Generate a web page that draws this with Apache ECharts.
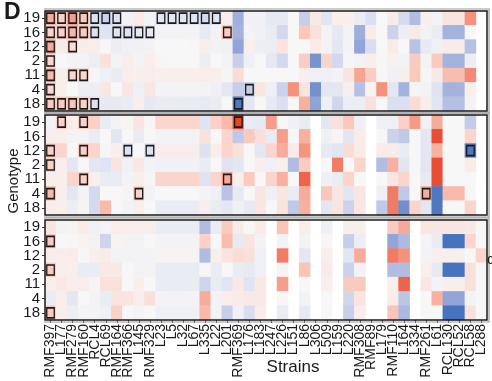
<!DOCTYPE html>
<html>
<head>
<meta charset="utf-8">
<script src="https://cdn.jsdelivr.net/npm/echarts@6/dist/echarts.min.js"></script>
<style>
html,body{margin:0;padding:0;background:#fff;}
#chart{width:492px;height:381px;}
</style>
</head>
<body>
<div id="chart"></div>
<script>
const strains = ['RMF397','L177','RMF279','RMF160','RCL4','RCL69','RMF164','RMF366','L145','RMF329',
  'L23','L5','L32','L67','L335','L22','L201','RMF369','L176','L183',
  'L247','L226','L151','L86','L306','L509','L159','L220','RMF308','RMF89',
  'L179','RMF110','L164','L334','RMF261','L61','RCL130','RCL52','RCL58','L288'];
const genotypes = ['19','16','12','2','11','4','18'];

// rows follow genotypes order; null = no data
const panel1 = [
  [1.6,1.0,1.8,1.1,-0.6,-1.0,-0.6,-0.15,0.3,-0.1,-0.5,-0.5,-0.5,-0.5,-0.8,-0.5,0.25,-1.8,-0.15,-0.15,-0.4,-0.4,0,-1.1,0.35,-0.5,0.2,0.2,-0.3,-0.65,0,0.3,-0.75,-1.5,0.2,-0.1,0.5,0.5,2.0,null],
  [0.9,1.0,1.4,1.1,-0.6,-0.55,-0.55,-0.55,-0.4,-0.4,-0.1,-0.1,-0.1,-0.1,-0.35,-0.1,1.1,-1.7,-0.1,-0.15,-0.3,-0.85,0,1.15,0.6,-0.1,-0.4,-0.1,-1.8,0.3,0,-1.0,-0.25,0.35,-0.1,-0.3,-1.7,-1.7,0,null],
  [1.6,0.3,0.7,0.25,0.25,0.05,-0.25,-0.15,-0.15,-0.1,0,0,0,0.05,0.2,-0.1,-0.15,-2.0,0.2,-0.25,-0.25,0.5,0,0,0.3,-0.1,-0.45,-0.1,-2.0,-0.7,0,0.3,0,-1.35,-0.35,-0.15,0.3,0.3,-1.4,null],
  [0.85,0,-0.1,-0.1,-0.25,0.55,-0.1,0.25,-0.1,0.25,0.05,0,0,0,-0.25,0,-0.1,-1.1,-0.2,0,-0.4,-0.85,0,1.05,-2.35,0.9,-0.85,-0.05,-0.1,0.2,0.05,0.15,-0.1,1.1,-0.1,1.1,-1.7,-1.7,-0.25,null],
  [1.35,0.2,0.8,0.8,-0.05,-0.2,-0.3,0.25,0.2,0.25,0.2,0.2,0.2,0.2,0.25,0.2,-0.05,0.7,0,0,0,0,0,0.2,-0.2,-0.2,-0.1,0.5,1.7,1.05,0,-0.15,0.2,1.1,-0.05,0.35,1.3,1.3,2.1,null],
  [0.85,0.2,0,-0.25,-0.25,0.4,0,0.45,-0.2,0.45,-0.1,-0.1,-0.1,-0.1,-0.1,-0.2,-0.45,-1.1,-1.1,0.45,-0.2,-1.0,2.0,0.5,-2.4,-0.45,-0.45,0.2,-1.4,0.1,2.0,-0.45,-1.7,-0.05,-0.1,-0.55,-1.7,-1.7,0.2,null],
  [1.1,1.1,1.2,0.95,-0.6,-0.35,-0.35,-0.3,0.2,-0.4,-0.3,-0.3,-0.3,-0.3,-0.35,-0.3,0,-2.9,-0.45,0,-0.35,-0.65,0,1.5,-2.05,-0.2,-0.9,-0.25,-0.25,0.6,0,-0.65,-0.65,0.7,0.2,-0.5,-1.4,-1.4,-0.1,null]
];
const panel2 = [
  [-0.15,1.0,0.25,1.0,1.0,-0.3,-0.1,0.1,0.5,0.05,0.85,0.85,0.85,0.85,-0.55,1.0,1.35,3.0,-0.3,-0.35,1.8,0,-0.15,-0.3,null,-0.45,0.6,1.15,-0.2,null,-0.2,-0.2,1.0,1.85,-0.15,1.6,0,0,-1.15,null],
  [0.25,0.2,-0.1,-0.1,-0.3,0,-0.5,0,-0.3,0,-0.1,-0.1,-0.1,-0.1,0.6,0,0.9,-1.2,1.1,0.6,-0.3,1.8,0.05,1.5,null,-0.2,0.1,-0.5,0.3,null,0.05,-1.0,-1.2,0,-0.45,2.9,0,0,0.9,null],
  [1.0,0.9,0,1.0,0.9,0.05,0.2,-0.6,0,-0.6,0.25,0.25,0.25,0.25,-0.6,0.25,0.9,0.55,0,-0.45,0.9,1.6,0.3,1.95,null,-0.35,-0.5,0.7,0.3,null,0.3,0.3,-0.3,0,-0.45,1.5,0,0,-2.9,null],
  [1.0,0.2,-0.45,0,-0.45,-0.55,0.5,-0.15,0.4,-0.1,-0.15,-0.15,-0.15,-0.15,-0.3,0,-0.55,-0.45,0,0.2,-0.2,0.2,-1.5,1.05,null,0,2.3,0,0.9,null,-1.5,1.5,-0.5,0,-0.45,2.9,0,0,0.3,null],
  [0.2,0.2,0.9,1.0,0.2,-0.3,-0.3,-0.1,0.2,-0.05,0.9,0.9,0.9,0.9,-0.55,0.9,1.6,0.2,1.1,0,0.9,1.5,0,2.6,null,-0.2,-0.3,0.9,0,null,0,0.45,0.9,0,-0.35,2.9,0,0,0,null],
  [1.35,0.2,-0.45,-0.1,-0.8,0,0,0.1,1.0,-0.1,0,0,0,0,-0.1,-0.2,-1.35,-0.35,0,0.45,-0.2,0.45,-0.3,1.6,null,1.15,0.45,-0.5,0.45,null,-0.2,2.3,-1.2,0,1.6,-2.9,1.35,1.35,0,null],
  [0.25,0.2,-0.25,0.1,-0.8,1.35,0,-0.1,0.2,0,-0.3,-0.3,-0.3,-0.3,0.2,-0.3,-0.45,-0.15,-0.35,0.45,0,0.5,-1.2,1.5,null,-0.45,0.5,-1.0,0.45,null,-1.2,2.3,-2.45,0.9,-0.45,-2.9,0,0,0.9,null]
];
const panel3 = [
  [0.5,-0.1,0.1,0.3,-0.2,-0.1,0.25,0.25,0.25,0.25,-0.3,-0.3,-0.3,-0.3,-1.5,-0.3,1.1,0.3,0,0.3,null,1.2,null,0.25,null,-0.2,null,0.2,0.2,null,null,1.1,1.65,null,0.45,0.45,0.45,0.45,0.35,0],
  [1.1,0,0.05,0.1,-0.1,-0.95,0.1,-0.1,-0.1,0,-0.1,-0.1,-0.1,-0.1,1.0,0,1.3,-0.35,0.5,-0.1,null,-0.1,null,-0.1,null,0.05,null,-1.1,-0.25,null,null,-2.0,-1.55,null,-0.1,-0.3,-3.0,-3.0,0.9,0],
  [0.25,0.25,0.3,0.05,0.2,0.3,-0.1,-0.1,-0.1,-0.1,0.1,0.1,0.1,0.1,-1.5,0.2,0.5,0.7,0.6,-0.2,null,2.3,null,-0.45,null,0.2,null,-0.5,1.6,null,null,2.3,2.0,null,-0.1,0.2,0.2,0.2,0,0.9],
  [1.1,0.25,0.2,-0.3,-0.3,0.35,0.35,0,-0.1,-0.1,-0.3,-0.3,-0.3,-0.3,0.05,-0.3,0,-0.3,-0.35,-0.2,null,0.1,null,1.2,null,0.3,null,-1.0,-0.1,null,null,-1.5,-1.5,null,0.2,-0.35,-3.0,-3.0,0.6,0],
  [0.25,0.35,0.2,0.25,0.1,0.6,0.6,0,0.2,0,-0.3,-0.3,-0.3,-0.3,-0.95,-0.3,-0.5,0.35,-0.55,0.35,null,1.8,null,0,null,0.2,null,1.1,1.1,null,null,0.2,2.6,null,0.45,-0.1,0.2,0.2,0.6,0],
  [-0.3,0.25,-0.45,0,-0.1,-0.3,0.5,0.5,0.25,0.6,-0.1,-0.1,-0.1,-0.1,1.6,-0.1,0.25,0.3,0.35,0.35,null,0.05,null,-0.1,null,0,null,-0.9,0.5,null,null,0.3,-1.3,null,0,1.5,-2.0,-2.0,-0.1,0],
  [1.1,0.25,-0.25,-0.1,-0.1,-0.2,1.0,0,-0.1,0,-0.2,-0.2,-0.2,-0.2,1.35,-0.1,-1.1,-0.2,-0.7,0.25,null,-0.3,null,-0.35,null,0,null,-1.1,0.25,null,null,1.2,-1.55,null,0,0,-3.0,-3.0,0.6,0]
];

// boxed cells: [strain index, genotype index]
const boxes1 = [[0,0],[1,0],[2,0],[3,0],[4,0],[5,0],[6,0],[10,0],[11,0],[12,0],[13,0],[14,0],[15,0],
  [0,1],[1,1],[2,1],[3,1],[4,1],[6,1],[7,1],[8,1],[9,1],[16,1],
  [0,2],[2,2],[0,3],[0,4],[2,4],[3,4],[0,5],[18,5],
  [0,6],[1,6],[2,6],[3,6],[4,6],[17,6]];
const boxes2 = [[1,0],[3,0],[17,0],[0,2],[3,2],[7,2],[9,2],[38,2],[0,3],[3,4],[16,4],[0,5],[8,5],[34,5]];
const boxes3 = [[0,1],[0,3],[0,6]];

const panels = [panel1, panel2, panel3];
const boxes = [boxes1, boxes2, boxes3];
const FONT = '"Liberation Sans", Arial, sans-serif';
const LEFT = 45, RIGHT = 5, H = 100, W = 492 - LEFT - RIGHT;
const tops = [11, 115, 220];

function toData(m) {
  const out = [];
  m.forEach((row, y) => row.forEach((v, x) => { if (v !== null) out.push([x, y, v]); }));
  return out;
}

const grid = [], xAxis = [], yAxis = [], series = [], graphic = [];
tops.forEach((t, i) => {
  grid.push({ left: LEFT, right: RIGHT, top: t, height: H });
  const last = i === 2;
  xAxis.push({
    type: 'category', gridIndex: i, data: strains, show: last,
    axisLine: { show: false },
    axisTick: { show: last, length: 3, interval: 0, alignWithLabel: true, lineStyle: { color: '#333' } },
    axisLabel: { show: last, rotate: 90, interval: 0, fontSize: 14, fontFamily: FONT, color: '#1a1a1a', margin: 4 },
    splitLine: { show: false }
  });
  yAxis.push({
    type: 'category', gridIndex: i, data: genotypes, inverse: true,
    axisLine: { show: false },
    axisTick: { show: true, length: 3, interval: 0, alignWithLabel: true, lineStyle: { color: '#333' } },
    axisLabel: { interval: 0, fontSize: 15, fontFamily: FONT, color: '#1a1a1a', margin: 5 },
    splitLine: { show: false }
  });
  series.push({
    type: 'heatmap', xAxisIndex: i, yAxisIndex: i, data: toData(panels[i]),
    itemStyle: { borderWidth: 0 }, emphasis: { disabled: true }, silent: true
  });
  graphic.push({
    type: 'polyline', z: 100, silent: true,
    shape: { points: [[LEFT - 1, t - 2], [LEFT + W + 2, t - 2], [LEFT + W + 2, t + H + 2], [LEFT - 1, t + H + 2]] },
    style: { fill: null, stroke: '#9a9a9a', lineWidth: 1.2 }
  });
  graphic.push({
    type: 'rect', z: 101, silent: true,
    shape: { x: LEFT, y: t, width: W, height: H },
    style: { fill: null, stroke: '#1a1a1a', lineWidth: 1.5 }
  });
});
boxes.forEach((b, i) => {
  series.push({
    type: 'scatter', xAxisIndex: i, yAxisIndex: i, data: b, symbol: 'rect', symbolSize: [7.5, 10],
    itemStyle: { color: 'rgba(0,0,0,0)', borderColor: '#1a1a1a', borderWidth: 1.5, opacity: 1 },
    emphasis: { disabled: true }, silent: true, z: 5
  });
});

graphic.push(
  { type: 'text', z: 110, style: { text: 'D', x: 4, y: 13, fontSize: 23, fontWeight: 'bold', fontFamily: FONT, fill: '#1a1a1a', verticalAlign: 'middle' } },
  { type: 'text', z: 110, x: 14, y: 181, rotation: Math.PI / 2, style: { text: 'Genotype', x: 0, y: 0, fontSize: 15, fontFamily: FONT, fill: '#1a1a1a', align: 'center', verticalAlign: 'middle' } },
  { type: 'text', z: 110, style: { text: 'Strains', x: 293, y: 367, fontSize: 17, fontFamily: FONT, fill: '#1a1a1a', align: 'center', verticalAlign: 'middle' } },
  { type: 'text', z: 110, style: { text: 'c', x: 487, y: 260, fontSize: 14, fontFamily: FONT, fill: '#1a1a1a', verticalAlign: 'middle' } }
);

const chart = echarts.init(document.getElementById('chart'), null, { renderer: 'canvas' });
chart.setOption({
  animation: false,
  backgroundColor: '#ffffff',
  grid, xAxis, yAxis, series, graphic,
  visualMap: {
    type: 'continuous', show: false, min: -3, max: 3, seriesIndex: [0, 1, 2],
    inRange: { color: ['#4673bd', '#93a5d6', '#cdd2ec', '#f7f7f7', '#fbd0c6', '#f5927c', '#e8452b'] }
  }
});
</script>
</body>
</html>
